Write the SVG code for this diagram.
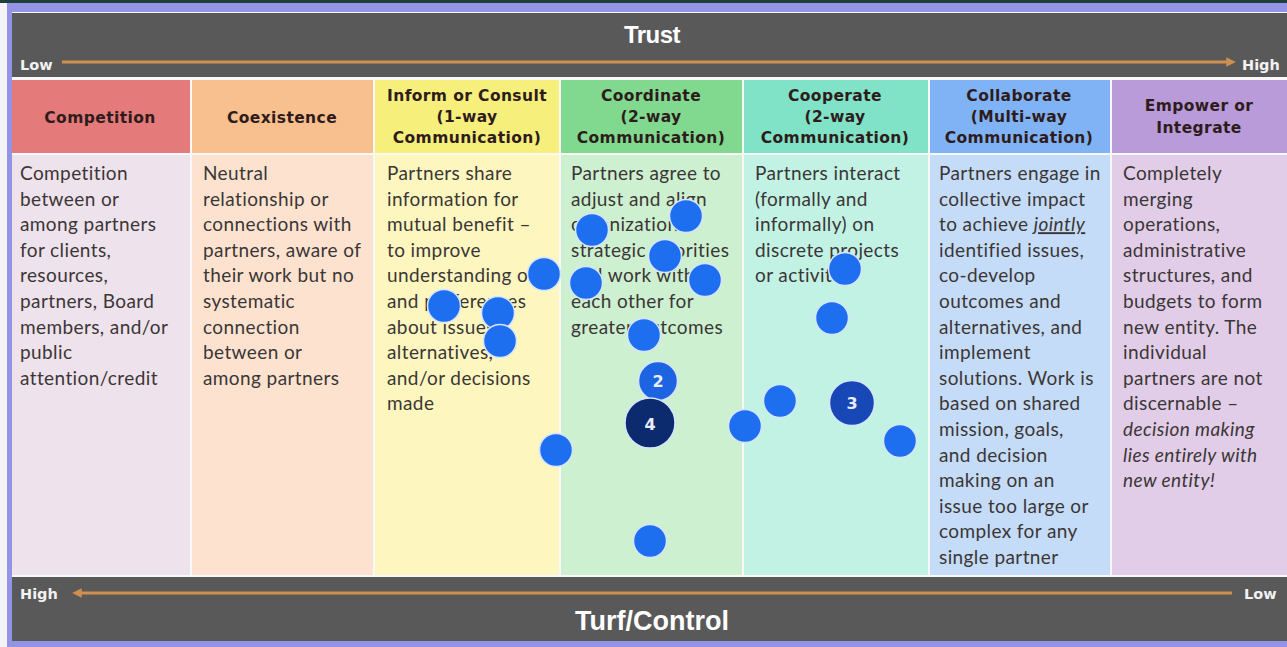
<svg xmlns="http://www.w3.org/2000/svg" width="1287" height="647" viewBox="0 0 1287 647">
<style>
.hd{font-family:"DejaVu Sans",sans-serif;font-weight:bold;font-size:15.5px;letter-spacing:0.4px;fill:#2e1c1c;text-anchor:middle}
.bd{font-family:Lato,"Liberation Sans",sans-serif;font-size:19px;letter-spacing:0.4px;fill:#3b3636}
.ax{font-family:"DejaVu Sans",sans-serif;font-weight:bold;font-size:14.5px;fill:#f2f2f2}
.ttl{font-family:"Liberation Sans",sans-serif;font-weight:bold;fill:#ffffff;text-anchor:middle}
.arr{stroke:#d08f4e;stroke-width:3;fill:none}
.dot{fill:#1e6ef0;stroke:#d6e4ff;stroke-width:1.5}
.num{font-family:"DejaVu Sans",sans-serif;font-weight:bold;font-size:16px;fill:#e8eeff;text-anchor:middle}
.it{font-style:italic}
</style>
<defs>
<marker id="ah" viewBox="0 0 10 10" refX="6" refY="5" markerWidth="3.2" markerHeight="3.2" orient="auto-start-reverse">
<path d="M0,0 L10,5 L0,10 z" fill="#d08f4e"/>
</marker>
</defs>
<rect x="0" y="0" width="1287" height="647" fill="#f4f4f8"/>
<rect x="0" y="0" width="1287" height="3" fill="#1f3f3a"/>
<rect x="7" y="3" width="1280" height="644" fill="#9494e6"/>
<rect x="12" y="12" width="1275" height="629" fill="#f8f8f8"/>
<g id="trust-bar">
<rect x="12" y="13" width="1275" height="64" fill="#595959"/>
<text class="ttl" x="652" y="43" font-size="24" letter-spacing="-0.5">Trust</text>
<text class="ax" x="20" y="70">Low</text>
<text class="ax" x="1242" y="70">High</text>
</g>
<g id="turf-bar">
<rect x="12" y="577" width="1275" height="64" fill="#595959"/>
<text class="ttl" x="652" y="630" font-size="27">Turf/Control</text>
<text class="ax" x="20" y="599">High</text>
<text class="ax" x="1244" y="599">Low</text>
</g>
<g id="connectors">
<line class="arr" x1="62" y1="62" x2="1232" y2="62" marker-end="url(#ah)"/>
<line class="arr" x1="1232" y1="593" x2="76" y2="593" marker-end="url(#ah)"/>
</g>
<g id="competition">
<rect x="12" y="80" width="178" height="73" fill="#e47a7a"/>
<rect x="12" y="155" width="178" height="420" fill="#eee2ec"/>
<text class="hd" x="100" y="123">Competition</text>
<text class="bd"><tspan x="20" y="180">Competition</tspan><tspan x="20" y="205.6">between or</tspan><tspan x="20" y="231.2">among partners</tspan><tspan x="20" y="256.8">for clients,</tspan><tspan x="20" y="282.4">resources,</tspan><tspan x="20" y="308">partners, Board</tspan><tspan x="20" y="333.6">members, and/or</tspan><tspan x="20" y="359.2">public</tspan><tspan x="20" y="384.8">attention/credit</tspan></text>
</g>
<g id="coexistence">
<rect x="192" y="80" width="181" height="73" fill="#f8c08e"/>
<rect x="192" y="155" width="181" height="420" fill="#fde3cf"/>
<text class="hd" x="282" y="123">Coexistence</text>
<text class="bd"><tspan x="203" y="180">Neutral</tspan><tspan x="203" y="205.6">relationship or</tspan><tspan x="203" y="231.2">connections with</tspan><tspan x="203" y="256.8">partners, aware of</tspan><tspan x="203" y="282.4">their work but no</tspan><tspan x="203" y="308">systematic</tspan><tspan x="203" y="333.6">connection</tspan><tspan x="203" y="359.2">between or</tspan><tspan x="203" y="384.8">among partners</tspan></text>
</g>
<g id="inform-consult">
<rect x="375" y="80" width="184" height="73" fill="#f7ef7c"/>
<rect x="375" y="155" width="184" height="420" fill="#fdf6bf"/>
<text class="hd"><tspan x="467" y="101">Inform or Consult</tspan><tspan x="467" y="122">(1-way</tspan><tspan x="467" y="143">Communication)</tspan></text>
<text class="bd"><tspan x="387" y="180">Partners share</tspan><tspan x="387" y="205.6">information for</tspan><tspan x="387" y="231.2">mutual benefit –</tspan><tspan x="387" y="256.8">to improve</tspan><tspan x="387" y="282.4">understanding of</tspan><tspan x="387" y="308">and preferences</tspan><tspan x="387" y="333.6">about issues,</tspan><tspan x="387" y="359.2">alternatives,</tspan><tspan x="387" y="384.8">and/or  decisions</tspan><tspan x="387" y="410.4">made</tspan></text>
</g>
<g id="coordinate">
<rect x="561" y="80" width="181" height="73" fill="#80d98e"/>
<rect x="561" y="155" width="181" height="420" fill="#cdf0d0"/>
<text class="hd"><tspan x="651" y="101">Coordinate</tspan><tspan x="651" y="122">(2-way</tspan><tspan x="651" y="143">Communication)</tspan></text>
<text class="bd"><tspan x="571" y="180">Partners agree to</tspan><tspan x="571" y="205.6">adjust and align</tspan><tspan x="571" y="231.2">organizational</tspan><tspan x="571" y="256.8">strategic priorities</tspan><tspan x="571" y="282.4">and work with</tspan><tspan x="571" y="308">each other for</tspan><tspan x="571" y="333.6">greater outcomes</tspan></text>
</g>
<g id="cooperate">
<rect x="744" y="80" width="184" height="73" fill="#80e2c6"/>
<rect x="744" y="155" width="184" height="420" fill="#c2f2e4"/>
<text class="hd"><tspan x="835" y="101">Cooperate</tspan><tspan x="835" y="122">(2-way</tspan><tspan x="835" y="143">Communication)</tspan></text>
<text class="bd"><tspan x="755" y="180">Partners interact</tspan><tspan x="755" y="205.6">(formally and</tspan><tspan x="755" y="231.2">informally) on</tspan><tspan x="755" y="256.8">discrete projects</tspan><tspan x="755" y="282.4">or activities</tspan></text>
</g>
<g id="collaborate">
<rect x="930" y="80" width="180" height="73" fill="#80b3f5"/>
<rect x="930" y="155" width="180" height="420" fill="#c5dcf8"/>
<text class="hd"><tspan x="1019" y="101">Collaborate</tspan><tspan x="1019" y="122">(Multi-way</tspan><tspan x="1019" y="143">Communication)</tspan></text>
<text class="bd"><tspan x="939" y="180">Partners engage in</tspan><tspan x="939" y="205.6">collective impact</tspan><tspan x="939" y="231.2">to achieve <tspan class="it" text-decoration="underline">jointly</tspan></tspan><tspan x="939" y="256.8">identified issues,</tspan><tspan x="939" y="282.4">co-develop</tspan><tspan x="939" y="308">outcomes and</tspan><tspan x="939" y="333.6">alternatives, and</tspan><tspan x="939" y="359.2">implement</tspan><tspan x="939" y="384.8">solutions. Work is</tspan><tspan x="939" y="410.4">based on shared</tspan><tspan x="939" y="436">mission, goals,</tspan><tspan x="939" y="461.6">and decision</tspan><tspan x="939" y="487.2">making on an</tspan><tspan x="939" y="512.8">issue too large or</tspan><tspan x="939" y="538.4">complex for any</tspan><tspan x="939" y="564">single partner</tspan></text>
</g>
<g id="empower-integrate">
<rect x="1112" y="80" width="175" height="73" fill="#b89bd8"/>
<rect x="1112" y="155" width="175" height="420" fill="#e2cde8"/>
<text class="hd"><tspan x="1199" y="111">Empower or</tspan><tspan x="1199" y="133">Integrate</tspan></text>
<text class="bd"><tspan x="1123" y="180">Completely</tspan><tspan x="1123" y="205.6">merging</tspan><tspan x="1123" y="231.2">operations,</tspan><tspan x="1123" y="256.8">administrative</tspan><tspan x="1123" y="282.4">structures, and</tspan><tspan x="1123" y="308">budgets to form</tspan><tspan x="1123" y="333.6">new entity. The</tspan><tspan x="1123" y="359.2">individual</tspan><tspan x="1123" y="384.8">partners are not</tspan><tspan x="1123" y="410.4">discernable –</tspan><tspan class="it" x="1123" y="436">decision making</tspan><tspan class="it" x="1123" y="461.6">lies entirely with</tspan><tspan class="it" x="1123" y="487.2">new entity!</tspan></text>
</g>
<g id="dots">
<circle class="dot" cx="686" cy="216" r="16.5"/>
<circle class="dot" cx="592" cy="230" r="16.5"/>
<circle class="dot" cx="665" cy="256" r="16.5"/>
<circle class="dot" cx="544" cy="274" r="16.5"/>
<circle class="dot" cx="586" cy="283" r="16.5"/>
<circle class="dot" cx="705" cy="280" r="16.5"/>
<circle class="dot" cx="444" cy="306" r="16.5"/>
<circle class="dot" cx="498" cy="313" r="16.5"/>
<circle class="dot" cx="500" cy="341" r="16.5"/>
<circle class="dot" cx="644" cy="335" r="16.5"/>
<circle class="dot" cx="845" cy="269" r="16.5"/>
<circle class="dot" cx="832" cy="318" r="16.5"/>
<circle class="dot" cx="780" cy="401" r="16.5"/>
<circle class="dot" cx="745" cy="426" r="16.5"/>
<circle class="dot" cx="900" cy="441" r="16.5"/>
<circle class="dot" cx="556" cy="450" r="16.5"/>
<circle class="dot" cx="650" cy="541" r="16.5"/>
</g>
<g id="dot-2">
<circle cx="658" cy="381" r="19.5" fill="#1c64e2" stroke="#d6e4ff" stroke-width="1.5"/>
<text class="num" x="658" y="387">2</text>
</g>
<g id="dot-4">
<circle cx="650" cy="423" r="25" fill="#0c2a6e" stroke="#d6e4ff" stroke-width="1.5"/>
<text class="num" x="650" y="429.5">4</text>
</g>
<g id="dot-3">
<circle cx="852" cy="403" r="22.5" fill="#1848b6" stroke="#d6e4ff" stroke-width="1.5"/>
<text class="num" x="852" y="409">3</text>
</g>
</svg>
